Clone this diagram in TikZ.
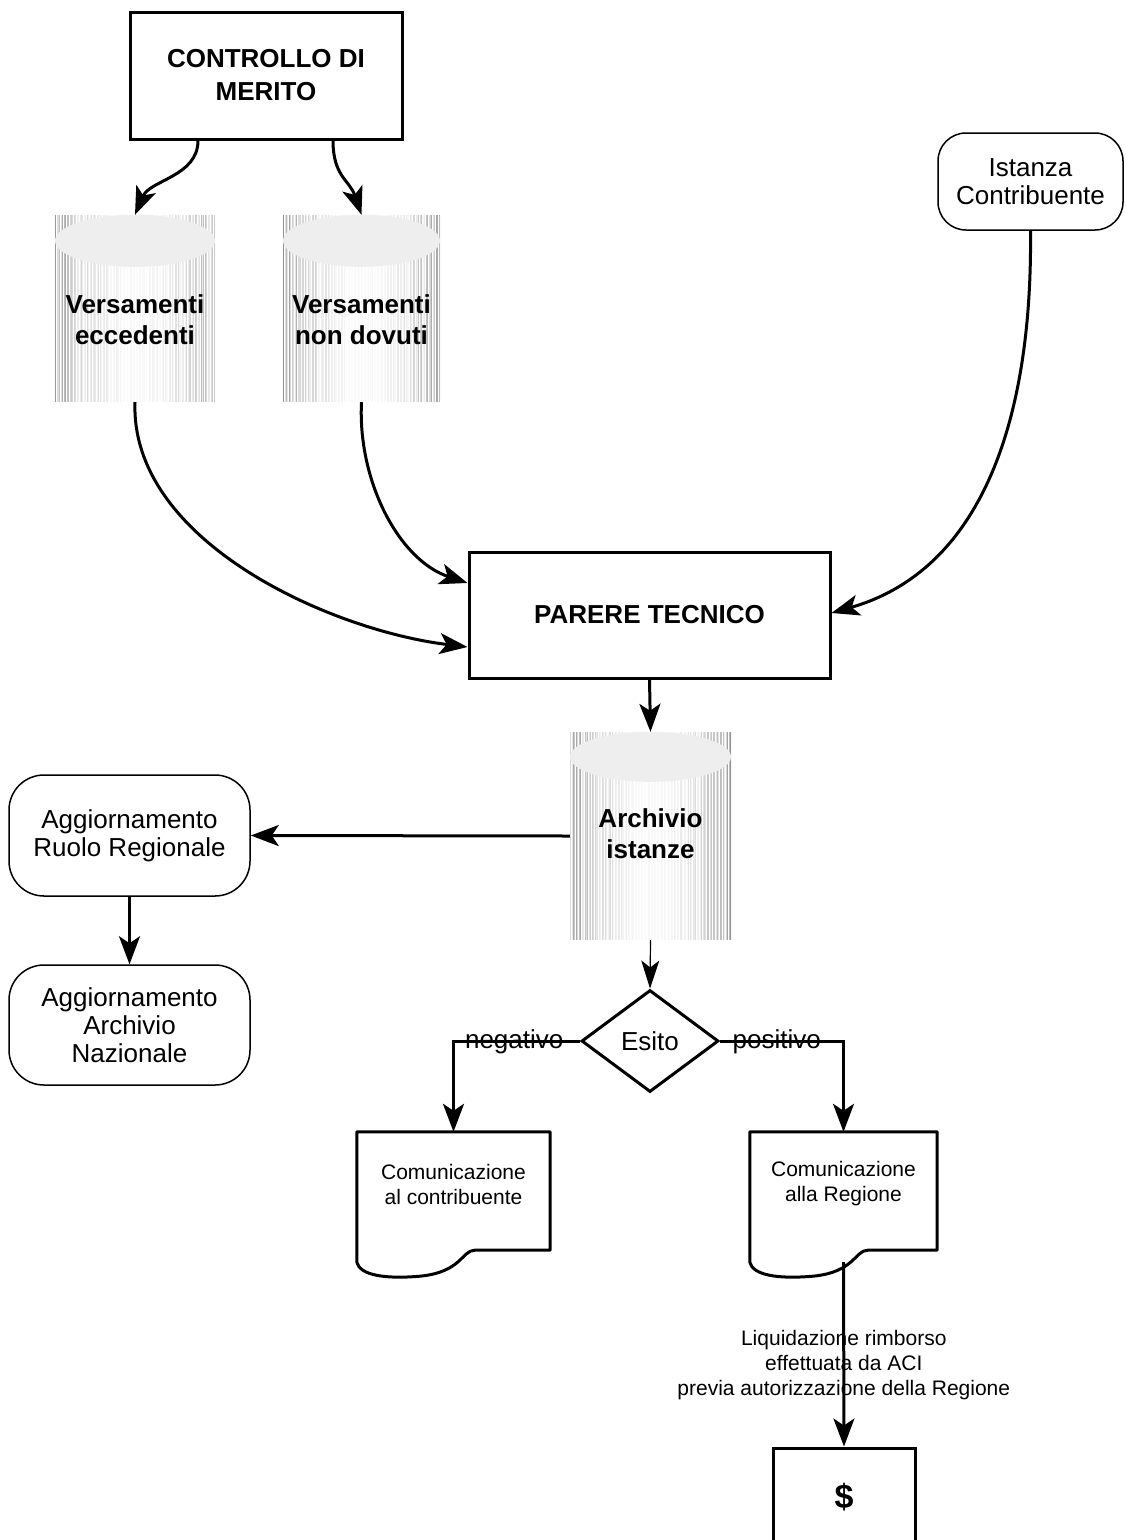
\documentclass[tikz,border=0pt]{standalone}
\usepackage{fontspec}
\setmainfont{Liberation Sans}
\usetikzlibrary{arrows.meta,calc,shapes.geometric}
\tikzset{
  arr/.style={line width=3pt, -{Stealth[length=28pt,width=21pt,inset=7pt]}},
  arrthin/.style={line width=1.2pt, -{Stealth[length=28pt,width=18pt,inset=7pt]}},
  boldtxt/.style={font=\fontsize{26}{31}\selectfont\bfseries, align=center, inner sep=0pt},
  normtxt/.style={font=\fontsize{26}{28}\selectfont, align=center},
  smalltxt/.style={font=\fontsize{21}{25}\selectfont, align=center, inner sep=0pt},
  sqbox/.style={draw, line width=3pt, inner sep=0pt, align=center},
  rbox/.style={draw, line width=1.5pt, rounded corners=35pt, inner sep=0pt, align=center, font=\fontsize{26}{28}\selectfont},
  cyltex/.style={inner sep=0pt, path picture={
    \foreach \i in {0,...,112}{
      \pgfmathsetmacro\dd{abs(\i/112-0.5)*2}
      \pgfmathsetmacro\pp{(3+42*\dd*\dd)*(0.2+0.8*rnd)}
      \draw[black!\pp, line width=0.8pt]
        ($(path picture bounding box.north west)+(\i*1.44+0.5,0)$) --
        ($(path picture bounding box.south west)+(\i*1.44+0.5,0)$);
    }}},
  docbox/.style={inner sep=0pt, minimum width=#1},
}
\newcommand\docoutline[1]{%
  \draw[line width=3pt, line join=round] (#1.north west) -- (#1.north east)
    -- ($(#1.south east)+(0,-12)$) -- ($(#1.south west)+(118,-12)$)
    .. controls ($(#1.south west)+(105,-12)$) and ($(#1.south west)+(105,10)$) .. ($(#1.south west)+(63,14)$)
    .. controls ($(#1.south west)+(28,17)$) and ($(#1.south west)+(3,13)$) .. (#1.south west) -- cycle;}
\begin{document}
\begin{tikzpicture}[x=1pt,y=-1pt]
\pgfmathsetseed{7}
\useasboundingbox (0,0) rectangle (1125,1540);
\fill[white] (0,0) rectangle (1125,1540);

% top box
\node[sqbox, minimum width=272pt, minimum height=127pt, font=\fontsize{26}{33}\selectfont\bfseries] (ctrl) at (266,75.5) {CONTROLLO DI\\MERITO};

% cylinders
\node[cyltex, minimum width=160pt, minimum height=187pt] (c1) at (135,308.5) {};
\fill[gray!13] ($(c1.north)+(0,26)$) ellipse [x radius=80pt, y radius=26pt];
\node[boldtxt] (c1t) at (135,320) {Versamenti\\eccedenti};

\node[cyltex, minimum width=157pt, minimum height=187pt] (c2) at (361.5,308.5) {};
\fill[gray!13] ($(c2.north)+(0,26)$) ellipse [x radius=78.5pt, y radius=26pt];
\node[boldtxt] (c2t) at (361.5,320) {Versamenti\\non dovuti};

% Istanza
\node[rbox, rounded corners=28pt, minimum width=185pt, minimum height=97pt] (ist) at (1030.5,181.5) {Istanza\\Contribuente};

% Parere
\node[sqbox, minimum width=361pt, minimum height=126pt, font=\fontsize{26}{31}\selectfont\bfseries] (parere) at (649.5,615) {PARERE TECNICO};

% Archivio
\node[cyltex, minimum width=161pt, minimum height=208pt] (arch) at (650.5,836) {};
\fill[gray!13] ($(arch.north)+(0,25)$) ellipse [x radius=80.5pt, y radius=25pt];
\node[boldtxt] (archt) at (650.5,834) {Archivio\\istanze};

% Aggiornamento boxes
\node[rbox, minimum width=241pt, minimum height=121pt] (ruolo) at (129.5,835.5) {Aggiornamento\\Ruolo Regionale};
\node[rbox, minimum width=241pt, minimum height=120pt] (naz) at (129.5,1025) {Aggiornamento\\Archivio\\Nazionale};

% decision
\node[draw, diamond, line width=3pt, minimum width=137pt, minimum height=102pt, inner sep=0pt, font=\fontsize{26}{28}\selectfont] (esito) at (650,1041) {Esito};

% documents
\node[docbox=193pt, minimum height=130pt] (doc1) at (453.5,1197) {};
\docoutline{doc1}
\node[smalltxt] (doc1t) at (453.5,1184) {Comunicazione\\al contribuente};
\node[docbox=187pt, minimum height=130pt] (doc2) at (843.5,1197) {};
\docoutline{doc2}
\node[smalltxt] (doc2t) at (843.5,1184) {Comunicazione\\alla Regione};

% dollar
\node[sqbox, minimum width=142pt, minimum height=98pt, font=\fontsize{34}{36}\selectfont\bfseries] (dollar) at (844,1497) {\$};

% connectors
\draw[arr] ([xshift=-68pt]ctrl.south) .. controls +(0,36) and +(15,-35) .. (c1.north);
\draw[arr] ([xshift=67pt]ctrl.south) .. controls +(0,36) and +(-12,-35) .. (c2.north);
\draw[arr] (c1.south) .. controls +(-5,138) and +(-139,-17) .. ([yshift=-32pt]parere.west);
\draw[arr] (c2.south) .. controls +(-4,78) and +(-69,-23) .. ([yshift=32pt]parere.west);
\draw[arr] (ist.south) .. controls +(2,190) and +(150,-43) .. ([yshift=2pt]parere.east);
\draw[arr] (parere.south) -- (arch.north);
\draw[arr] (arch.west) -- (ruolo.east);
\draw[arr] (ruolo.south) -- (naz.north);
\draw[arrthin] (arch.south) -- (esito.north);
\draw[arr] (esito.west) -| node[pos=0.26, anchor=base, yshift=-7pt, font=\fontsize{26}{28}\selectfont, inner sep=0pt] {negativo} (doc1.north);
\draw[arr] (esito.east) -| node[pos=0.23, anchor=base, yshift=-7pt, font=\fontsize{26}{28}\selectfont, inner sep=0pt] {positivo} (doc2.north);
\draw[arr] (doc2.south) -- node[pos=0.56, smalltxt] {Liquidazione rimborso\\effettuata da ACI\\previa autorizzazione della Regione} (dollar.north);
\end{tikzpicture}
\end{document}
